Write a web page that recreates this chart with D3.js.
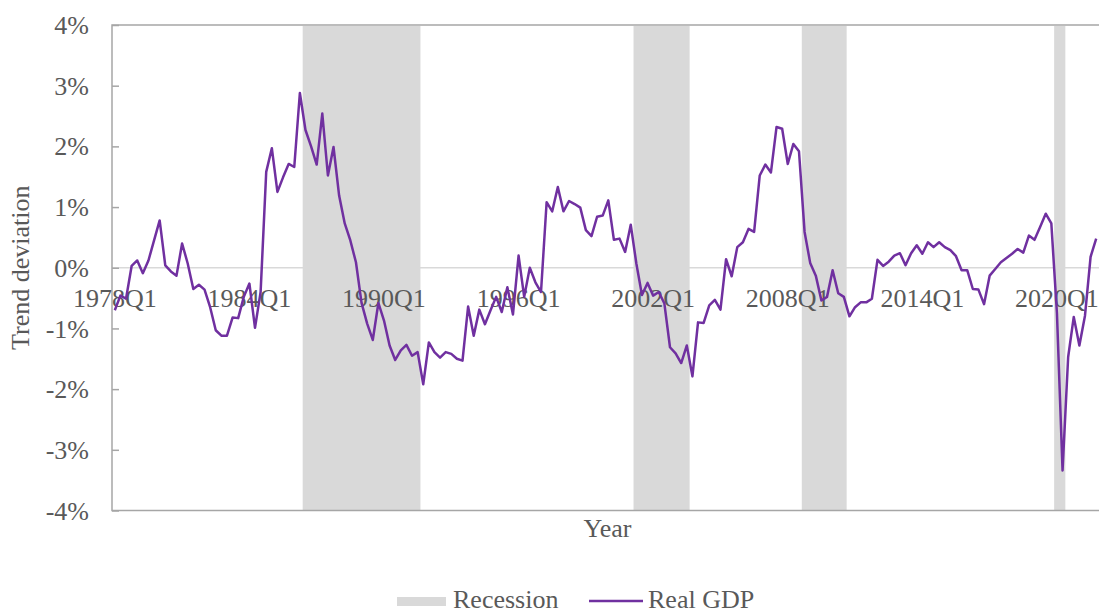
<!DOCTYPE html>
<html>
<head>
<meta charset="utf-8">
<script src="https://cdn.jsdelivr.net/npm/d3@7"></script>
<style>
  body { margin: 0; background: #fff; }
  text { font-family: "Liberation Serif", "Times New Roman", serif; fill: #595959; }
</style>
</head>
<body>
<script>

// quarters 1978Q1 .. 2021Q4
var quarters = [];
for (var yr = 1978; yr <= 2021; yr++) {
    for (var q = 1; q <= 4; q++) quarters.push(yr + "Q" + q);
}

// real GDP, % deviation from trend
var gdpDeviation = [
    -0.70, -0.46, -0.51, 0.03, 0.12, -0.09, 0.12, 0.45, 0.78, 0.04,
    -0.06, -0.13, 0.40, 0.07, -0.35, -0.28, -0.36, -0.65, -1.03, -1.12,
    -1.12, -0.82, -0.83, -0.48, -0.26, -0.99, -0.40, 1.58, 1.97, 1.25,
    1.49, 1.71, 1.66, 2.88, 2.27, 2.00, 1.70, 2.54, 1.52, 1.99,
    1.19, 0.73, 0.45, 0.09, -0.58, -0.92, -1.19, -0.58, -0.87, -1.28,
    -1.52, -1.36, -1.27, -1.45, -1.39, -1.92, -1.23, -1.39, -1.48, -1.39,
    -1.42, -1.50, -1.53, -0.64, -1.12, -0.69, -0.93, -0.70, -0.48, -0.73,
    -0.32, -0.77, 0.20, -0.48, 0.00, -0.24, -0.40, 1.08, 0.93, 1.33,
    0.93, 1.10, 1.05, 0.99, 0.62, 0.52, 0.84, 0.86, 1.11, 0.46,
    0.48, 0.26, 0.71, 0.07, -0.45, -0.25, -0.46, -0.40, -0.59, -1.31,
    -1.41, -1.57, -1.28, -1.79, -0.90, -0.91, -0.62, -0.53, -0.69, 0.14,
    -0.14, 0.34, 0.42, 0.64, 0.59, 1.52, 1.70, 1.57, 2.32, 2.29,
    1.71, 2.04, 1.92, 0.59, 0.08, -0.13, -0.54, -0.48, -0.04, -0.42,
    -0.48, -0.80, -0.65, -0.57, -0.57, -0.51, 0.13, 0.03, 0.10, 0.20,
    0.24, 0.04, 0.24, 0.37, 0.23, 0.42, 0.34, 0.42, 0.34, 0.29,
    0.19, -0.04, -0.04, -0.35, -0.36, -0.60, -0.13, -0.02, 0.09, 0.16,
    0.23, 0.31, 0.25, 0.53, 0.46, 0.67, 0.89, 0.73, -0.75, -3.34,
    -1.47, -0.81, -1.28, -0.79, 0.18, 0.48
];

// recession periods (first and last quarter shaded)
var recessionStart = ["1986Q3", "2001Q2", "2008Q4", "2020Q1"];
var recessionEnd   = ["1991Q3", "2003Q3", "2010Q3", "2020Q2"];

var xTickLabels = ["1978Q1", "1984Q1", "1990Q1", "1996Q1", "2002Q1", "2008Q1", "2014Q1", "2020Q1"];
var yTicks = [-4, -3, -2, -1, 0, 1, 2, 3, 4];

var W = 1099, H = 612;
var plot = { left: 112, right: 1099, top: 25, bottom: 510.5 };

var svg = d3.select("body").append("svg")
    .attr("width", W)
    .attr("height", H);

var x = d3.scaleBand()
    .domain(quarters)
    .range([plot.left, plot.right])
    .padding(0);

var y = d3.scaleLinear()
    .domain([-4, 4])
    .range([plot.bottom, plot.top]);

function xc(q) { return x(q) + x.bandwidth() / 2; }

// zero line
svg.append("line")
    .attr("x1", plot.left).attr("x2", plot.right)
    .attr("y1", y(0)).attr("y2", y(0))
    .attr("stroke", "#d9d9d9")
    .attr("stroke-width", 1.5);

// recession bands
var bands = recessionStart.map(function (s, i) { return { start: s, end: recessionEnd[i] }; });
svg.append("g").selectAll("rect")
    .data(bands)
    .enter().append("rect")
    .attr("x", function (d) { return x(d.start); })
    .attr("width", function (d) { return x(d.end) + x.bandwidth() - x(d.start); })
    .attr("y", plot.top + 1)
    .attr("height", plot.bottom - plot.top - 1)
    .attr("fill", "#d9d9d9");

// plot border: top, left, bottom
svg.append("path")
    .attr("d", "M" + plot.right + "," + plot.top + "H" + plot.left + "V" + plot.bottom + "H" + plot.right)
    .attr("fill", "none")
    .attr("stroke", "#a6a6a6")
    .attr("stroke-width", 1.5);

// y axis
var yAxis = d3.axisLeft(y)
    .tickValues(yTicks)
    .tickSize(-7)
    .tickPadding(30)
    .tickFormat(function (d) { return d + "%"; });

var gY = svg.append("g")
    .attr("transform", "translate(" + plot.left + ",0)")
    .call(yAxis);
gY.select(".domain").remove();
gY.selectAll(".tick line").attr("stroke", "#a6a6a6").attr("stroke-width", 1.5);
gY.selectAll(".tick text")
    .attr("x", 89 - plot.left)
    .attr("dy", "0.33em")
    .style("font-size", "26px")
    .style("font-family", "'Liberation Serif', serif")
    .attr("fill", "#595959");

// x axis labels along the zero line
var xAxis = d3.axisBottom(x)
    .tickValues(xTickLabels)
    .tickSize(0)
    .tickPadding(0);

var gX = svg.append("g")
    .attr("transform", "translate(0," + y(0) + ")")
    .call(xAxis);
gX.select(".domain").remove();
gX.selectAll(".tick text")
    .attr("y", 307 - y(0))
    .attr("dy", 0)
    .style("font-size", "26px")
    .style("font-family", "'Liberation Serif', serif")
    .attr("fill", "#595959");

// GDP line
var line = d3.line()
    .x(function (d, i) { return xc(quarters[i]); })
    .y(function (d) { return y(d); });

svg.append("path")
    .datum(gdpDeviation)
    .attr("d", line)
    .attr("fill", "none")
    .attr("stroke", "#7030a0")
    .attr("stroke-width", 2.5)
    .attr("stroke-linejoin", "round");

// axis titles
svg.append("text")
    .attr("transform", "translate(29," + ((plot.top + plot.bottom) / 2) + ") rotate(-90)")
    .attr("text-anchor", "middle")
    .style("font-size", "26px")
    .text("Trend deviation");

svg.append("text")
    .attr("x", (plot.left + plot.right) / 2 + 2)
    .attr("y", 537)
    .attr("text-anchor", "middle")
    .style("font-size", "26px")
    .text("Year");

// legend
var legend = svg.append("g");
legend.append("rect")
    .attr("x", 397).attr("y", 597)
    .attr("width", 49).attr("height", 9)
    .attr("fill", "#d9d9d9");
legend.append("text")
    .attr("x", 453).attr("y", 607.5)
    .style("font-size", "26px")
    .text("Recession");
legend.append("line")
    .attr("x1", 589).attr("x2", 643)
    .attr("y1", 601).attr("y2", 601)
    .attr("stroke", "#7030a0")
    .attr("stroke-width", 2.5);
legend.append("text")
    .attr("x", 648).attr("y", 607.5)
    .style("font-size", "26px")
    .text("Real GDP");

</script>
</body>
</html>
